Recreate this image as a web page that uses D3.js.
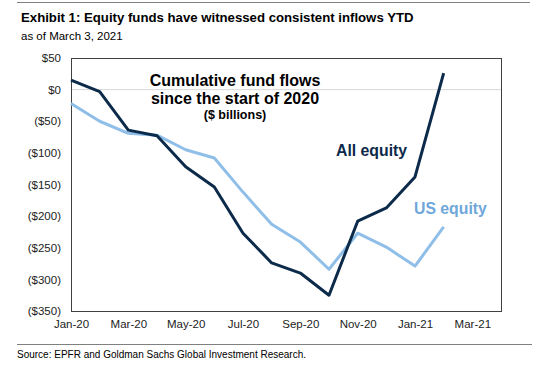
<!DOCTYPE html>
<html>
<head>
<meta charset="utf-8">
<script src="https://cdn.jsdelivr.net/npm/d3@7"></script>
<style>
  body { margin: 0; background: #fff; }
  svg { font-family: Arial, "Liberation Sans", sans-serif; }
</style>
</head>
<body>
<svg id="chart" width="545" height="368"></svg>
<script>
// month index 0 = Jan-20
var months = d3.range(0, 14);
var allEquity = [15, -3, -64, -73, -122, -154, -227, -274, -290, -325, -208, -187, -138, 26];
var usEquity = [-22, -50, -69, -72, -95, -108, -162, -213, -241, -284, -227, -249, -279, -217];
var xTickLabels = ["Jan-20", "Mar-20", "May-20", "Jul-20", "Sep-20", "Nov-20", "Jan-21", "Mar-21"];
var yTicks = [50, 0, -50, -100, -150, -200, -250, -300, -350];

var svg = d3.select("#chart"),
    plotLeft = 71, plotRight = 501, plotTop = 58, plotBottom = 311;

var x = d3.scaleLinear().domain([0, 15]).range([plotLeft, plotRight]);
var y = d3.scaleLinear().domain([-350, 50]).range([plotBottom, plotTop]);

// header / footer rules
svg.append("line").attr("x1", 17).attr("x2", 530).attr("y1", 2.5).attr("y2", 2.5)
    .attr("stroke", "#808080").attr("stroke-width", 1);
svg.append("line").attr("x1", 17).attr("x2", 532).attr("y1", 344.5).attr("y2", 344.5)
    .attr("stroke", "#808080").attr("stroke-width", 1);

svg.append("text").attr("x", 21).attr("y", 22)
    .attr("font-size", 13.2).attr("font-weight", "bold").attr("fill", "#000")
    .text("Exhibit 1: Equity funds have witnessed consistent inflows YTD");
svg.append("text").attr("x", 21).attr("y", 40)
    .attr("font-size", 11.5).attr("fill", "#000")
    .text("as of March 3, 2021");
svg.append("text").attr("x", 17).attr("y", 358)
    .attr("font-size", 10).attr("fill", "#000")
    .text("Source: EPFR and Goldman Sachs Global Investment Research.");

// zero line
svg.append("line").attr("x1", plotLeft).attr("x2", plotRight).attr("y1", y(0)).attr("y2", y(0))
    .attr("stroke", "#d9d9d9").attr("stroke-width", 1);

// frame
svg.append("rect").attr("x", plotLeft + 0.5).attr("y", plotTop + 0.5)
    .attr("width", plotRight - plotLeft).attr("height", plotBottom - plotTop)
    .attr("fill", "none").attr("stroke", "#404040").attr("stroke-width", 1);

// axes
var fmt = function (d) { return d < 0 ? "($" + (-d) + ")" : "$" + d; };
var yAxis = svg.append("g").attr("transform", "translate(" + plotLeft + ",0)")
    .call(d3.axisLeft(y).tickValues(yTicks).tickFormat(fmt).tickSize(0).tickPadding(10));
var xAxis = svg.append("g").attr("transform", "translate(0," + plotBottom + ")")
    .call(d3.axisBottom(x).tickValues(d3.range(0, 15, 2))
        .tickFormat(function (d, i) { return xTickLabels[i]; }).tickSize(0).tickPadding(9));
[yAxis, xAxis].forEach(function (a) {
    a.select(".domain").remove();
    a.selectAll("text").attr("font-size", 11.5).attr("fill", "#222")
        .attr("font-family", "Arial, 'Liberation Sans', sans-serif");
});

var line = d3.line()
    .x(function (d, i) { return x(months[i]); })
    .y(function (d) { return y(d); });

svg.append("path").datum(usEquity).attr("d", line)
    .attr("fill", "none").attr("stroke", "#8fbfe8").attr("stroke-width", 3)
    .attr("stroke-linejoin", "round");
svg.append("path").datum(allEquity).attr("d", line)
    .attr("fill", "none").attr("stroke", "#0c2a4a").attr("stroke-width", 3)
    .attr("stroke-linejoin", "round");

// annotations
var note = svg.append("text").attr("text-anchor", "middle").attr("font-weight", "bold").attr("fill", "#000");
note.append("tspan").attr("x", 235).attr("y", 85.5).attr("font-size", 16).text("Cumulative fund flows");
note.append("tspan").attr("x", 235).attr("y", 103.5).attr("font-size", 16).text("since the start of 2020");
note.append("tspan").attr("x", 235).attr("y", 119).attr("font-size", 12.5).text("($ billions)");

svg.append("text").attr("x", 336).attr("y", 156).attr("font-size", 15.8).attr("font-weight", "bold")
    .attr("fill", "#0c2a4a").text("All equity");
svg.append("text").attr("x", 414).attr("y", 214).attr("font-size", 15.8).attr("font-weight", "bold")
    .attr("fill", "#6fa7da").text("US equity");
</script>
</body>
</html>
